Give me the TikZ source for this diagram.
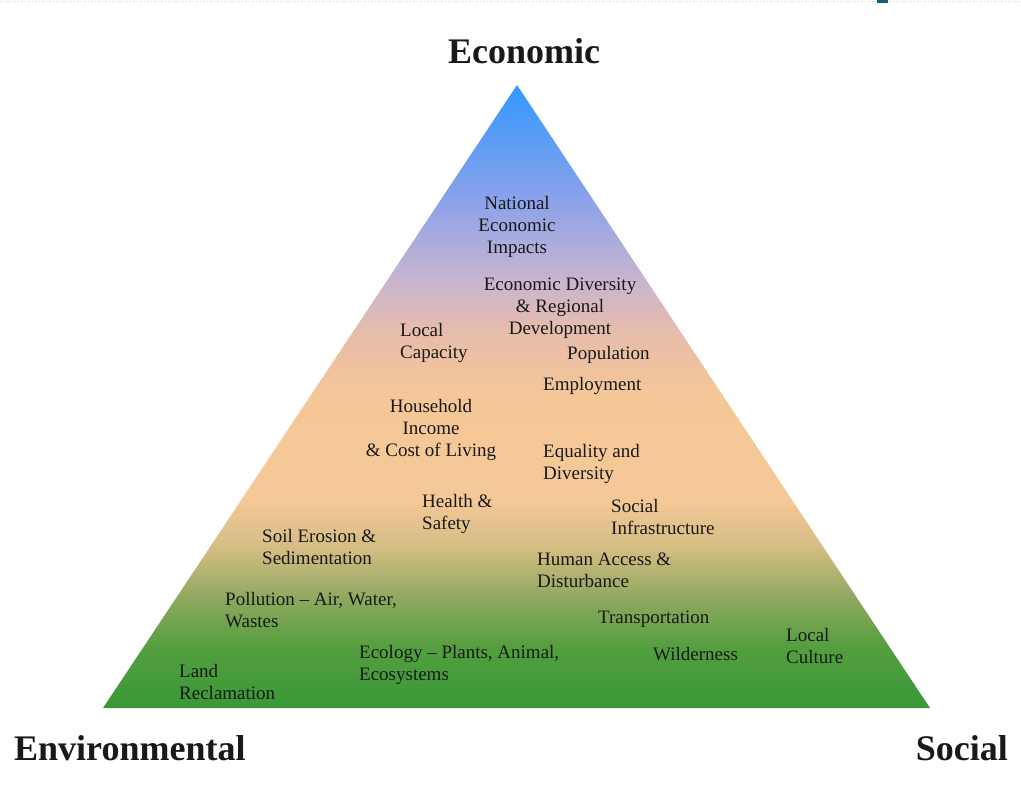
\documentclass[tikz,border=0pt]{standalone}
\usepackage{fontspec}
\setmainfont{Liberation Serif}
\definecolor{cG}{RGB}{58,152,56}
\definecolor{cG1}{RGB}{82,158,62}
\definecolor{cO}{RGB}{140,168,94}
\definecolor{cT}{RGB}{210,188,130}
\definecolor{cP}{RGB}{245,200,152}
\definecolor{cP2}{RGB}{246,199,150}
\definecolor{cK}{RGB}{230,188,172}
\definecolor{cL}{RGB}{200,180,208}
\definecolor{cV}{RGB}{140,162,234}
\definecolor{cB}{RGB}{50,152,255}
\definecolor{teal1}{RGB}{20,95,115}
\pgfdeclareverticalshading{pyr}{100bp}{color(0bp)=(cG); color(25bp)=(cG); color(29.7bp)=(cG1); color(33.7bp)=(cO); color(37.7bp)=(cT); color(41.7bp)=(cP); color(49.7bp)=(cP2); color(55.3bp)=(cK); color(59.4bp)=(cL); color(65.7bp)=(cV); color(75bp)=(cB); color(100bp)=(cB)}
\tikzset{
  lbl/.style={inner sep=0pt, font=\fontsize{19}{22}\selectfont, text=black!90},
  lw/.style={lbl, anchor=north west, align=left},
  lc/.style={lbl, anchor=north, align=center},
  big/.style={inner sep=0pt, font=\fontsize{36}{40}\selectfont\bfseries, text=black!90}
}
\begin{document}
\begin{tikzpicture}[x=1pt,y=-1pt]
\useasboundingbox (0,0) rectangle (1021,793);
\draw[black!15, dotted, line width=1.5pt] (0,1.5) -- (1021,1.5);
\fill[teal1] (877,0) rectangle (888,3);
\coordinate (apex) at (517,85);
\coordinate (bl) at (103,708);
\coordinate (br) at (930,708);
\shade[shading=pyr] (apex) -- (br) -- (bl) -- cycle;
\node[big, anchor=base] (eco) at (524,63) {Economic};
\node[big, anchor=base west] (env) at (14,760) {Environmental};
\node[big, anchor=base east] (soc) at (1008,760) {Social};
\node[lc] (nat) at (517,196) {National\\Economic\\Impacts};
\node[lc] (div) at (560,278) {Economic Diversity\\\& Regional\\Development};
\node[lw] (loc) at (400,323) {Local\\Capacity};
\node[lw] (pop) at (567,346) {Population};
\node[lw] (emp) at (543,377) {Employment};
\node[lc] (hh) at (431,399) {Household\\Income\\\& Cost of Living};
\node[lw] (eq) at (543,444) {Equality and\\Diversity};
\node[lw] (hs) at (422,494) {Health \&\\Safety};
\node[lw] (si) at (611,499) {Social\\Infrastructure};
\node[lw] (se) at (262,529) {Soil Erosion \&\\Sedimentation};
\node[lw] (ha) at (537,553) {Human Access \&\\Disturbance};
\node[lw] (pol) at (225,592) {Pollution – Air, Water,\\Wastes};
\node[lw] (tr) at (598,611) {Transportation};
\node[lw] (ecol) at (359,645) {Ecology – Plants, Animal,\\Ecosystems};
\node[lw] (wil) at (653,647) {Wilderness};
\node[lw] (lcu) at (786,628) {Local\\Culture};
\node[lw] (land) at (179,664) {Land\\Reclamation};
\end{tikzpicture}
\end{document}
